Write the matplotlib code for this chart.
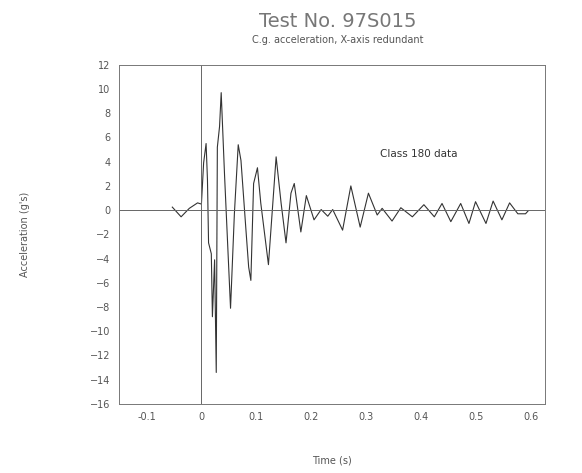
import numpy as np
import matplotlib.pyplot as plt

# accel trace (time s, accel g's)
t = [-0.053, -0.037, -0.022, -0.007, 0.0, 0.004, 0.0085, 0.011, 0.013, 0.018,
     0.020, 0.024, 0.027, 0.029, 0.033, 0.036, 0.042, 0.053, 0.060, 0.067,
     0.072, 0.081, 0.086, 0.090, 0.095, 0.102, 0.108, 0.122, 0.136, 0.145,
     0.154, 0.163, 0.169, 0.181, 0.191, 0.205, 0.218, 0.230, 0.239, 0.257,
     0.272, 0.289, 0.304, 0.320, 0.329, 0.347, 0.363, 0.384, 0.405, 0.424,
     0.438, 0.454, 0.472, 0.487, 0.499, 0.518, 0.531, 0.547, 0.561, 0.576,
     0.590, 0.595]
accel = [0.25, -0.55, 0.15, 0.6, 0.5, 3.9, 5.5, 2.5, -2.7, -3.6,
         -8.8, -4.1, -13.4, 5.2, 6.9, 9.7, 3.0, -8.1, -0.3, 5.4,
         4.1, -1.6, -4.7, -5.8, 2.2, 3.5, 0.6, -4.5, 4.4, 0.6,
         -2.7, 1.4, 2.2, -1.8, 1.2, -0.8, 0.05, -0.5, 0.05, -1.65,
         2.0, -1.4, 1.4, -0.4, 0.15, -0.9, 0.2, -0.55, 0.45, -0.55,
         0.55, -0.95, 0.55, -1.1, 0.7, -1.1, 0.75, -0.8, 0.6, -0.3,
         -0.3, -0.05]

xticks = [-0.1, 0, 0.1, 0.2, 0.3, 0.4, 0.5, 0.6]
yticks = list(range(-16, 13, 2))

gray = "#555555"
fig = plt.figure(figsize=(5.82, 4.73), dpi=100)
ax = fig.add_axes([0.2045, 0.146, 0.7315, 0.717])
ax.plot(t, accel, color="#333333", lw=0.8)
ax.axhline(0, color="#666666", lw=0.7)
ax.axvline(0, color="#666666", lw=0.7)
ax.set_xlim(-0.15, 0.625)
ax.set_ylim(-16, 12)
ax.set_xticks(xticks)
ax.set_xticklabels([f"{v:g}" for v in xticks])
ax.set_yticks(yticks)
ax.tick_params(length=0, labelsize=7, colors=gray, pad=6)
for s in ax.spines.values():
    s.set_color("#777777")
    s.set_linewidth(0.7)
ax.set_xlabel("Time (s)", fontsize=7, color=gray, labelpad=24)
ax.yaxis.set_label_coords(-0.21, 0.5)
ax.set_ylabel("Acceleration (g's)", fontsize=7, color=gray)
ax.text(0.395, 4.4, "Class 180 data", fontsize=7.5, color="#333333", ha="center")
fig.text(0.58, 0.955, "Test No. 97S015", fontsize=14, color="#777777", ha="center", va="center")
fig.text(0.58, 0.915, "C.g. acceleration, X-axis redundant", fontsize=7, color=gray, ha="center", va="center")
fig.savefig("out.png", dpi=100)
